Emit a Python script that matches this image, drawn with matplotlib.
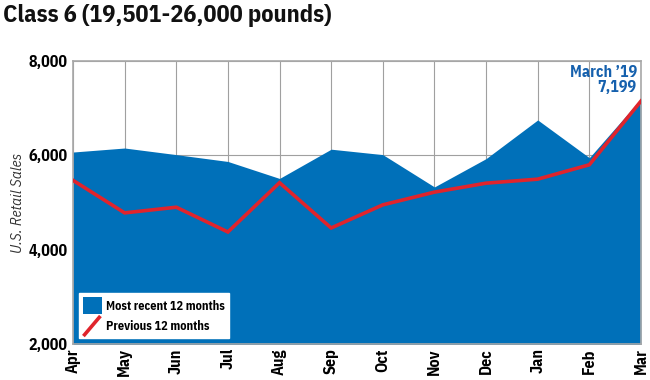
import matplotlib
matplotlib.use("Agg")
import matplotlib.pyplot as plt
from matplotlib.lines import Line2D
from matplotlib.patches import Patch
from matplotlib.legend_handler import HandlerLine2D

months = ["Apr", "May", "Jun", "Jul", "Aug", "Sep", "Oct", "Nov", "Dec", "Jan", "Feb", "Mar"]
recent = [6070, 6155, 6015, 5870, 5510, 6130, 6015, 5330, 5930, 6750, 5950, 7199]
previous = [5470, 4780, 4900, 4375, 5420, 4460, 4950, 5220, 5410, 5495, 5800, 7150]
yticks = [2000, 4000, 6000, 8000]
ytick_labels = ["2,000", "4,000", "6,000", "8,000"]

FONT = ["IBM Plex Sans Condensed", "DejaVu Sans"]
BLUE = "#0070b9"
RED = "#e0242c"

fig = plt.figure(figsize=(6.5, 3.8), dpi=100)
ax = fig.add_axes([0.1123, 0.0947, 0.8738, 0.7448])

x = list(range(len(months)))
ax.fill_between(x, recent, 0, color=BLUE, linewidth=0, zorder=2)
ax.plot(x, previous, color=RED, linewidth=2.6, zorder=3, solid_joinstyle="miter")

ax.set_xlim(0, len(months) - 1)
ax.set_ylim(2000, 8000)
ax.set_xticks(x)
ax.set_xticklabels(months, rotation=90, fontfamily=FONT, fontweight="bold", fontsize=11.5)
ax.set_yticks(yticks)
ax.set_yticklabels(ytick_labels, fontfamily=FONT, fontweight="bold", fontsize=11.5)
ax.tick_params(length=0, pad=4)
ax.tick_params(axis="x", pad=3)
ax.grid(True, color="#a0a0a0", linewidth=0.8, zorder=1)
ax.set_axisbelow(True)
for s in ax.spines.values():
    s.set_color("#a8a8a8")
    s.set_linewidth(1.2)

ax.set_ylabel("U.S. Retail Sales", fontfamily=FONT, fontstyle="italic", fontsize=11,
              color="#333333")
ax.yaxis.set_label_coords(-0.084, 0.5)

fig.text(0.004, 0.99, "Class 6 (19,501-26,000 pounds)", fontfamily=FONT, fontweight="bold",
         fontsize=17.5, va="top", ha="left", color="#111111")

ax.annotate("March \u201919\n7,199", xy=(len(months) - 1, recent[-1]), xytext=(-3, 3),
            textcoords="offset points", ha="right", va="bottom", fontfamily=FONT,
            fontweight="bold", fontsize=11.5, color="#1560ad", linespacing=0.95,
            multialignment="right")


class DiagHandler(HandlerLine2D):
    def create_artists(self, legend, orig_handle, xdescent, ydescent, width, height, fontsize, trans):
        line = Line2D([-xdescent + width * 0.1, -xdescent + width * 0.85],
                      [-ydescent + height * 0.0, -ydescent + height * 1.0],
                      color=orig_handle.get_color(), linewidth=2.6, transform=trans)
        return [line]


handles = [Patch(facecolor=BLUE, edgecolor="none"), Line2D([], [], color=RED)]
leg = ax.legend(handles, ["Most recent 12 months", "Previous 12 months"],
                loc="lower left", bbox_to_anchor=(0.0105, 0.02), frameon=True, fancybox=False,
                handler_map={Line2D: DiagHandler()}, prop={"family": FONT, "weight": "bold", "size": 8.8},
                handlelength=1.6, handleheight=1.8, handletextpad=0.35, borderpad=0.3,
                labelspacing=0.25, borderaxespad=0)
leg.get_frame().set_facecolor("white")
leg.get_frame().set_edgecolor("white")
leg.get_frame().set_alpha(1)
leg.set_zorder(5)

fig.savefig("out.png", dpi=100)
